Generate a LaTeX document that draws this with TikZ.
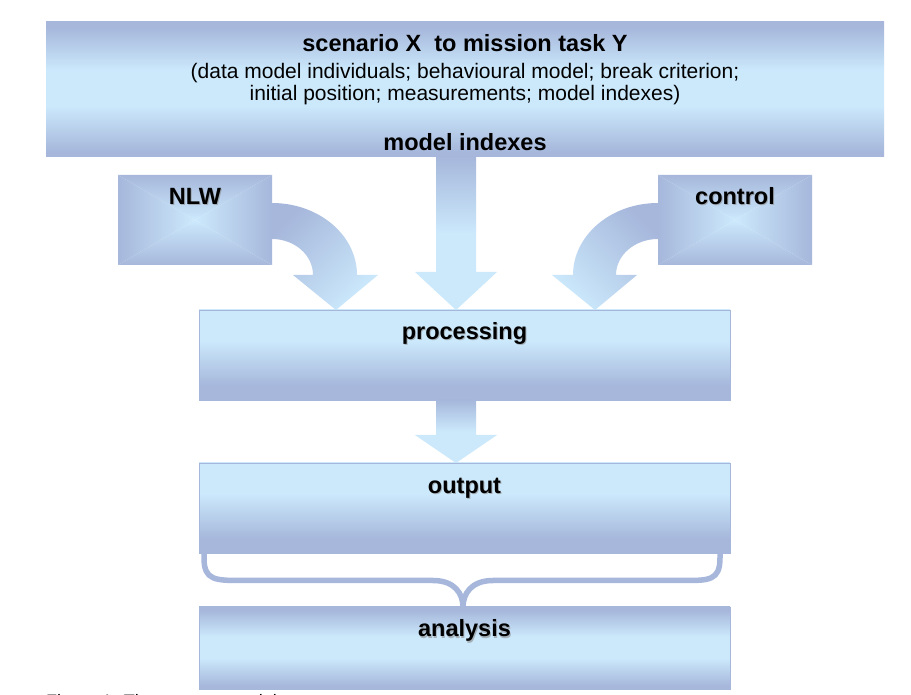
\documentclass[tikz,border=0pt]{standalone}
\usepackage{fontspec}
\setmainfont{Liberation Sans}
\usetikzlibrary{calc}
\definecolor{dk}{RGB}{166,183,219}
\definecolor{lt}{RGB}{204,233,252}
\pgfdeclareverticalshading{lightdark}{100bp}{color(0bp)=(dk); color(25bp)=(dk); color(33bp)=(dk); color(58bp)=(lt); color(75bp)=(lt); color(100bp)=(lt)}
\pgfdeclareverticalshading{darklightdark}{100bp}{color(0bp)=(dk); color(25bp)=(dk); color(27bp)=(dk); color(44bp)=(lt); color(57bp)=(lt); color(73bp)=(dk); color(100bp)=(dk)}
\pgfdeclareverticalshading{arrowshade}{100bp}{color(0bp)=(lt); color(25bp)=(lt); color(50bp)=(lt); color(75bp)=(dk); color(100bp)=(dk)}
\tikzset{
  box/.style={inner sep=0pt, outer sep=0pt, anchor=north west},
  boldtxt/.style={font=\fontsize{23.5}{28}\selectfont\bfseries, anchor=base, inner sep=0pt},
  regtxt/.style={font=\fontsize{21}{25}\selectfont, anchor=base, inner sep=0pt},
  shadowtxt/.style={boldtxt, text=black!45, opacity=0.6},
  blockarrow/.style={shading=arrowshade},
}
\begin{document}
\begin{tikzpicture}[x=1pt,y=1pt]
\useasboundingbox (0,0) rectangle (911,694);
\fill[white] (0,0) rectangle (911,694);

% top box
\node[box, shading=darklightdark, minimum width=838pt, minimum height=135pt] (top) at (46,672) {};
\node[boldtxt] (title) at (465,642) {scenario X\ \ to mission task Y};
\node[regtxt] (sub1) at (465,615) {(data model individuals; behavioural model; break criterion;};
\node[regtxt] (sub2) at (465,593) {initial position; measurements; model indexes)};
\node[boldtxt] (mi) at (465,543) {model indexes};

% NLW box (rectangular gradient)
\shade[top color=dk,bottom color=lt] (118,519) -- (272,519) -- (195,474) -- cycle;
\shade[top color=lt,bottom color=dk] (118,429) -- (272,429) -- (195,474) -- cycle;
\shade[left color=dk,right color=lt] (118,519) -- (118,429) -- (195,474) -- cycle;
\shade[left color=lt,right color=dk] (272,519) -- (272,429) -- (195,474) -- cycle;
\node[inner sep=0pt, minimum width=154pt, minimum height=90pt] (nlw) at (195,474) {};
\node[shadowtxt] (nlwsh) at (196,488) {NLW};
\node[boldtxt] (nlwtxt) at (195,489) {NLW};

% control box
\shade[top color=dk,bottom color=lt] (658,519) -- (812,519) -- (735,474) -- cycle;
\shade[top color=lt,bottom color=dk] (658,429) -- (812,429) -- (735,474) -- cycle;
\shade[left color=dk,right color=lt] (658,519) -- (658,429) -- (735,474) -- cycle;
\shade[left color=lt,right color=dk] (812,519) -- (812,429) -- (735,474) -- cycle;
\node[inner sep=0pt, minimum width=154pt, minimum height=90pt] (ctrl) at (735,474) {};
\node[shadowtxt] (ctrlsh) at (736,488) {control};
\node[boldtxt] (ctrltxt) at (735,489) {control};

% processing, output, analysis
\node[box, shading=lightdark, draw=dk, line width=0.8pt, minimum width=531pt, minimum height=90pt] (proc) at (199,384) {};
\node[shadowtxt] (procsh) at (465.5,353) {processing};
\node[boldtxt] (proctxt) at (464.5,354) {processing};

\node[box, shading=lightdark, draw=dk, line width=0.8pt, minimum width=531pt, minimum height=90pt] (out) at (199,231) {};
\node[shadowtxt] (outsh) at (465.5,199) {output};
\node[boldtxt] (outtxt) at (464.5,200) {output};

\node[box, shading=darklightdark, draw=dk, line width=0.8pt, minimum width=531pt, minimum height=82pt] (ana) at (199,87) {};
\node[shadowtxt] (anash) at (465.5,56) {analysis};
\node[boldtxt] (anatxt) at (464.5,57) {analysis};

% central block arrow: top -> processing
\shade[blockarrow] (436,537) -- (476,537) -- (476,422) -- (497,422) -- (456,384) -- (415,422) -- (436,422) -- cycle;
% processing -> output
\shade[blockarrow] (436,294) -- (476,294) -- (476,259) -- (497,259) -- (456,231) -- (415,259) -- (436,259) -- cycle;

% curved arrow NLW -> processing
\shade[top color=dk, bottom color=lt, shading angle=45]
  (272,491) arc[start angle=90, end angle=0, x radius=85pt, y radius=72pt]
  -- (378,419) -- (336,384) -- (293,419) -- (313,419)
  arc[start angle=0, end angle=90, x radius=41pt, y radius=36pt] -- cycle;
% curved arrow control -> processing
\shade[top color=dk, bottom color=lt, shading angle=-45]
  (658,491) arc[start angle=90, end angle=180, x radius=85pt, y radius=72pt]
  -- (552,419) -- (595,384) -- (637,419) -- (616,419)
  arc[start angle=180, end angle=90, x radius=42pt, y radius=36pt] -- cycle;

% brace output -> analysis
\draw[dk, line width=5.5pt, line join=round]
  (204,141) -- (204,136) .. controls (204,113.5) and (215,113.5) .. (243,113.5)
  -- (433,113.5) .. controls (455,113.5) and (463,100) .. (463,87);
\draw[dk, line width=5.5pt, line join=round]
  (720,141) -- (720,136) .. controls (720,113.5) and (709,113.5) .. (684,113.5)
  -- (493,113.5) .. controls (471,113.5) and (463,100) .. (463,87);

% caption (cut off at the page edge, as in the reference)
\node[font=\fontsize{18}{22}\selectfont, anchor=base west, inner sep=0pt] (cap) at (46,-13) {Figure 1: The process model};
\end{tikzpicture}
\end{document}
